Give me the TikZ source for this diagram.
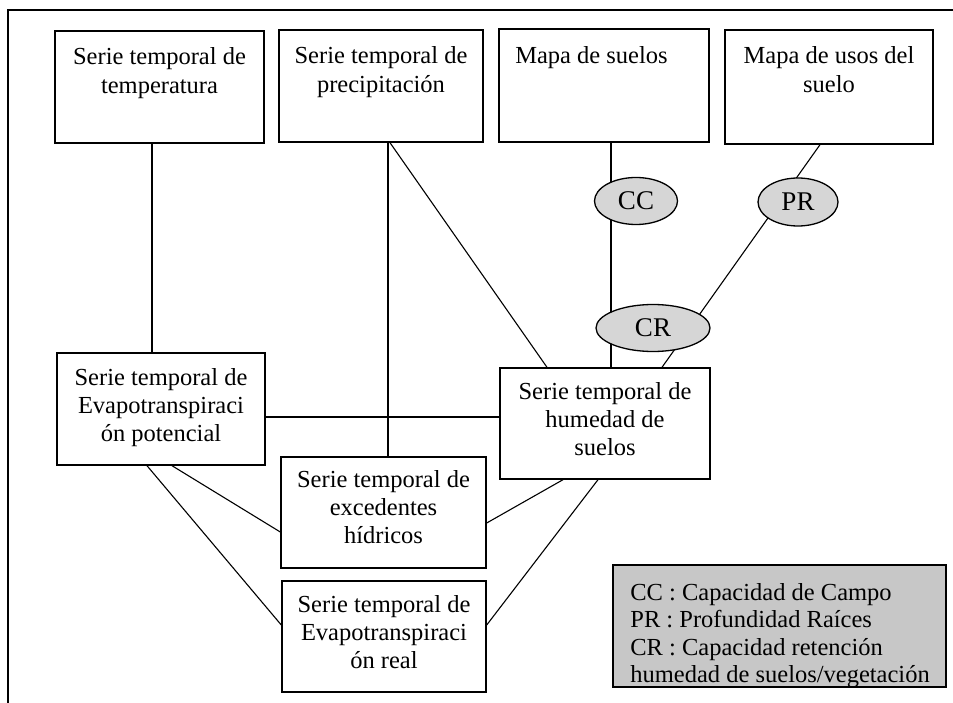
\documentclass[tikz,border=0pt]{standalone}
\usepackage{fontspec}
\setmainfont{Liberation Serif}
\usetikzlibrary{shapes.geometric}
\pgfdeclarelayer{bg}
\pgfsetlayers{bg,main}
\begin{document}
\begin{tikzpicture}[x=1pt,y=-1pt,
  box/.style={draw, rectangle, line width=1.4pt, inner sep=0pt},
  btext/.style={font=\fontsize{24.5}{28.2}\selectfont, align=center, inner sep=0pt, anchor=north},
  conn/.style={line width=1.1pt},
  oval/.style={ellipse, draw, line width=1.3pt, fill=black!16, inner sep=0pt, font=\fontsize{27}{30}\selectfont},
  legendbox/.style={draw, rectangle, line width=1.6pt, fill=black!22, inner sep=0pt},
  legendtext/.style={font=\fontsize{24.5}{27.5}\selectfont, align=left, inner sep=0pt, anchor=north west}
]
\useasboundingbox (0,0) rectangle (953,703);
% frame
\draw[line width=1.3pt] (8,703) -- (8,10) -- (953,10);

% boxes
\node[box, minimum width=209pt, minimum height=112pt] (temp) at (159.5,87) {};
\node[box, minimum width=204pt, minimum height=112pt] (prec) at (381,86) {};
\node[box, minimum width=210pt, minimum height=113pt] (suelos) at (604,85.5) {};
\node[box, minimum width=208pt, minimum height=114pt] (usos) at (829,87) {};
\node[box, minimum width=208pt, minimum height=112pt] (evpot) at (161,409) {};
\node[box, minimum width=210pt, minimum height=111pt] (hum) at (605,423.5) {};
\node[box, minimum width=205pt, minimum height=111pt] (exc) at (383.5,512.5) {};
\node[box, minimum width=204pt, minimum height=111pt] (evreal) at (384,636.5) {};

% box texts
\node[btext] (ttemp) at ([yshift=-17.5pt]temp.north) {Serie temporal de\\temperatura};
\node[btext] (tprec) at ([yshift=-17.5pt]prec.north) {Serie temporal de\\precipitación};
\node[btext] (tsuelos) at ([xshift=-12.5pt,yshift=-18pt]suelos.north) {Mapa de suelos};
\node[btext] (tusos) at ([yshift=-17.5pt]usos.north) {Mapa de usos del\\suelo};
\node[btext] (tevpot) at ([yshift=-16pt]evpot.north) {Serie temporal de\\Evapotranspiraci\\ón potencial};
\node[btext] (thum) at ([yshift=-15pt]hum.north) {Serie temporal de\\humedad de\\suelos};
\node[btext] (texc) at ([yshift=-14pt]exc.north) {Serie temporal de\\excedentes\\hídricos};
\node[btext] (tevreal) at ([yshift=-15pt]evreal.north) {Serie temporal de\\Evapotranspiraci\\ón real};

% ellipses
\node[oval, minimum width=83pt, minimum height=47pt] (cc) at (636,201) {CC};
\node[oval, minimum width=80pt, minimum height=48pt] (pr) at (798,202) {PR};
\node[oval, minimum width=114pt, minimum height=47pt] (cr) at (653,328) {CR};

% legend
\node[legendbox, minimum width=333pt, minimum height=122pt] (leg) at (779.5,626) {};
\node[legendtext] (legt) at ([xshift=18pt,yshift=-19pt]leg.north west) {CC : Capacidad de Campo\\PR : Profundidad Raíces\\CR : Capacidad retención\\humedad de suelos/vegetación};

% connectors
\begin{pgfonlayer}{bg}
\draw[conn] ([xshift=-7.5pt]temp.south) -- ([xshift=-9pt]evpot.north);
\draw[conn] ([xshift=7pt]prec.south) -- ([xshift=4.5pt]exc.north);
\draw[conn] ([xshift=9pt]prec.south) -- ([xshift=-58pt]hum.north);
\draw[conn] ([xshift=7pt]suelos.south) -- ([xshift=6pt]hum.north);
\draw[conn] ([xshift=-9pt]usos.south) -- ([xshift=57pt]hum.north);
\draw[conn] ([yshift=-8pt]evpot.east) -- ([yshift=6.5pt]hum.west);
\draw[conn] ([xshift=11pt]evpot.south) -- ([yshift=-19.5pt]exc.west);
\draw[conn] ([xshift=-14pt]evpot.south) -- ([yshift=11.5pt]evreal.west);
\draw[conn] ([xshift=-42pt]hum.south) -- ([yshift=-10.5pt]exc.east);
\draw[conn] ([xshift=-7pt]hum.south) -- ([yshift=11.5pt]evreal.east);
\end{pgfonlayer}
\end{tikzpicture}
\end{document}
